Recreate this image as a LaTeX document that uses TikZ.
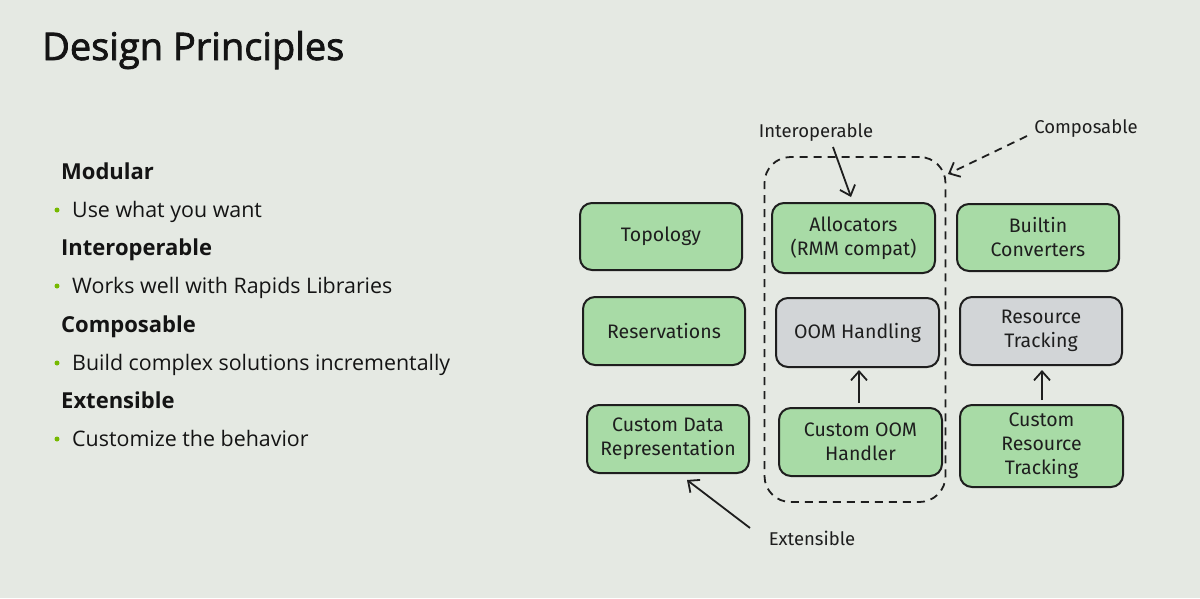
\documentclass[tikz,border=0pt]{standalone}
\usepackage{fontspec}
\setmainfont{Open Sans}
\newfontfamily\handfont{Fira Sans}
\newfontfamily\titlefont{Open Sans}[FakeBold=2]
\usetikzlibrary{arrows.meta}
\definecolor{bgcol}{HTML}{E5E9E3}
\definecolor{boxgreen}{HTML}{A8DBA6}
\definecolor{boxgrey}{HTML}{D2D5D7}
\definecolor{inkcol}{HTML}{1E1E1E}
\definecolor{nvgreen}{HTML}{76B900}
\definecolor{textcol}{HTML}{141414}
\tikzset{
  sketchbox/.style={draw=inkcol, line width=2pt, rounded corners=12pt, fill=boxgreen,
    align=center, inner sep=2pt, minimum width=162pt, minimum height=68pt,
    font=\handfont\fontsize{19.5}{24}\selectfont, text=inkcol},
  greybox/.style={sketchbox, fill=boxgrey},
  groupbox/.style={draw=inkcol, line width=1.8pt, dash pattern=on 8pt off 6pt, rounded corners=26pt,
    minimum width=181pt, minimum height=345pt, inner sep=0pt},
  annot/.style={font=\handfont\fontsize{18.5}{22}\selectfont, text=inkcol, inner sep=1pt},
  sketcharrow/.style={draw=inkcol, line width=1.8pt, -{Straight Barb[length=9pt,width=16pt,line width=1.8pt]}},
  heading/.style={anchor=base west, font=\bfseries\fontsize{22}{26}\selectfont, text=textcol, inner sep=0pt},
  bullettext/.style={anchor=base west, font=\fontsize{21.4}{26}\selectfont, text=textcol, inner sep=0pt},
  bulletdot/.style={circle, fill=nvgreen, inner sep=0pt, minimum size=5pt},
}
\begin{document}
\begin{tikzpicture}[x=1pt,y=-1pt]
\fill[bgcol] (0,0) rectangle (1200,598);
\useasboundingbox (0,0) rectangle (1200,598);

% title
\node[anchor=base west, font=\titlefont\fontsize{38}{44}\selectfont, text=textcol, inner sep=0pt] (title) at (42,60) {Design Principles};

% left list
\node[heading] (h1) at (61,179) {Modular};
\node[bulletdot] (d1) at (57,210) {};
\node[bullettext] (t1) at (72,217) {Use what you want};
\node[heading] (h2) at (61,255) {Interoperable};
\node[bulletdot] (d2) at (57,286) {};
\node[bullettext] (t2) at (72,293) {Works well with Rapids Libraries};
\node[heading] (h3) at (61,332) {Composable};
\node[bulletdot] (d3) at (57,363) {};
\node[bullettext] (t3) at (72,370) {Build complex solutions incrementally};
\node[heading] (h4) at (61,408) {Extensible};
\node[bulletdot] (d4) at (57,439) {};
\node[bullettext] (t4) at (72,446) {Customize the behavior};

% group
\node[groupbox] (grp) at (855,329.5) {};

% boxes
\node[sketchbox, minimum height=67pt] (topo) at (661,236.5) {Topology};
\node[sketchbox, minimum width=163pt, minimum height=70pt] (alloc) at (853.5,238) {Allocators\\(RMM compat)};
\node[sketchbox, minimum height=67pt] (conv) at (1038,237.5) {Builtin\\Converters};
\node[sketchbox] (resv) at (664,331) {Reservations};
\node[greybox, minimum width=163pt, minimum height=69pt] (oom) at (857.5,332.5) {OOM Handling};
\node[greybox] (rtrack) at (1041,331) {Resource\\Tracking};
\node[sketchbox] (cdata) at (668,439) {Custom Data\\Representation};
\node[sketchbox, minimum width=163pt] (coom) at (860.5,442) {Custom OOM\\Handler};
\node[sketchbox, minimum width=163pt, minimum height=82pt] (crt) at (1041.5,446) {Custom\\Resource\\Tracking};

% annotations
\node[annot] (lint) at (816,133) {Interoperable};
\node[annot] (lcomp) at (1086,129) {Composable};
\node[annot] (lext) at (812,538) {Extensible};

\coordinate (intend) at (851,197);
\coordinate (intstart) at (833,147);
\coordinate (compstart) at (1027,136);
\coordinate (compend) at (948,174);
\coordinate (extstart) at (750,528);
\coordinate (extend) at (687,480);
\coordinate (oomstart) at (859,403);
\coordinate (oomend) at (859,370);
\coordinate (rtstart) at (1042,400);
\coordinate (rtend) at (1042,370);

\draw[sketcharrow] (intstart) -- (intend);
\draw[sketcharrow, dash pattern=on 8pt off 6pt] (compstart) -- (compend);
\draw[sketcharrow] (extstart) -- (extend);
\draw[sketcharrow] (oomstart) -- (oomend);
\draw[sketcharrow] (rtstart) -- (rtend);
\end{tikzpicture}
\end{document}
